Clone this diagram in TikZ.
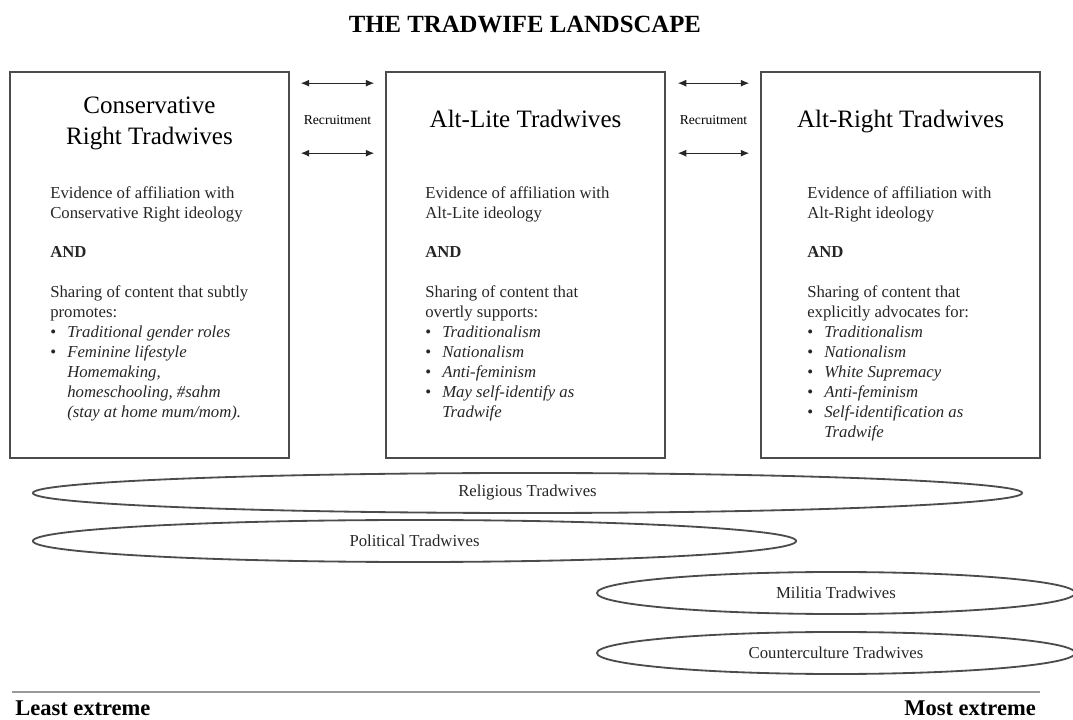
\documentclass[tikz,border=0pt]{standalone}
\usepackage{fontspec}
\setmainfont{Liberation Serif}
\usetikzlibrary{shapes.geometric,arrows.meta,calc}
\newcommand{\twitem}[1]{\makebox[12.1pt][l]{\textbullet}\textit{#1}}
\newcommand{\twmore}[1]{\hspace*{12.1pt}\textit{#1}}

\begin{document}
\begin{tikzpicture}[x=0.025cm,y=-0.025cm,
	tradbox/.style={rectangle,draw=black!70,line width=1.1pt,minimum width=6.975cm,minimum height=9.65cm,inner sep=0},
	boxhead/.style={font=\fontsize{17.8}{22}\selectfont,align=center,inner sep=0},
	boxbody/.style={font=\fontsize{11.9}{14.2}\selectfont,align=left,anchor=north west,inner sep=0,text=black!85},
	oval/.style={ellipse,draw=black!70,line width=1.3pt,inner sep=0,font=\fontsize{11.9}{14}\selectfont,text=black!85},
	recruit/.style={{Latex[length=6pt,width=5pt]}-{Latex[length=6pt,width=5pt]},line width=0.75pt,color=black!85}]
	\useasboundingbox (0,0) rectangle (1073,720);

	\node (title) [font=\bfseries\fontsize{17.6}{20}\selectfont,inner sep=0] at (525,25) {THE TRADWIFE LANDSCAPE};

	% the three groups
	\node (cons) [tradbox] at (149.5,265) {};
	\node (alite) [tradbox] at (525.5,265) {};
	\node (aright) [tradbox] at (900.5,265) {};

	\node (conshead) [boxhead,anchor=north] at (149.5,97) {Conservative\\Right Tradwives};
	\node (alitehead) [boxhead,anchor=base] at (525.5,128) {Alt-Lite Tradwives};
	\node (arighthead) [boxhead,anchor=base] at (900.5,128) {Alt-Right Tradwives};

	\node (consbody) [boxbody] at (50,186) {Evidence of affiliation with\\
		Conservative Right ideology\\[14.2pt]
		\textbf{AND}\\[14.2pt]
		Sharing of content that subtly\\
		promotes:\\
		\twitem{Traditional gender roles}\\
		\twitem{Feminine lifestyle}\\
		\twmore{Homemaking,}\\
		\twmore{homeschooling, \#sahm}\\
		\twmore{(stay at home mum/mom).}};
	\node (alitebody) [boxbody] at (425,186) {Evidence of affiliation with\\
		Alt-Lite ideology\\[14.2pt]
		\textbf{AND}\\[14.2pt]
		Sharing of content that\\
		overtly supports:\\
		\twitem{Traditionalism}\\
		\twitem{Nationalism}\\
		\twitem{Anti-feminism}\\
		\twitem{May self-identify as}\\
		\twmore{Tradwife}};
	\node (arightbody) [boxbody] at (807,186) {Evidence of affiliation with\\
		Alt-Right ideology\\[14.2pt]
		\textbf{AND}\\[14.2pt]
		Sharing of content that\\
		explicitly advocates for:\\
		\twitem{Traditionalism}\\
		\twitem{Nationalism}\\
		\twitem{White Supremacy}\\
		\twitem{Anti-feminism}\\
		\twitem{Self-identification as}\\
		\twmore{Tradwife}};

	% recruitment arrows
	\draw [recruit] ($(cons.north east)+(11,12)$) -- ($(alite.north west)+(-11,12)$);
	\draw [recruit] ($(cons.north east)+(11,82)$) -- ($(alite.north west)+(-11,82)$);
	\draw [recruit] ($(alite.north east)+(12,12)$) -- ($(aright.north west)+(-11,12)$);
	\draw [recruit] ($(alite.north east)+(12,82)$) -- ($(aright.north west)+(-11,82)$);
	\node (rec1) [font=\fontsize{9.7}{11}\selectfont,inner sep=0] at (337.5,120) {Recruitment};
	\node (rec2) [font=\fontsize{9.7}{11}\selectfont,inner sep=0] at (713.5,120) {Recruitment};

	% overlapping types
	\node (relig) [oval,minimum width=24.725cm,minimum height=1cm] at (527.5,493) {Religious Tradwives};
	\node (polit) [oval,minimum width=19.075cm,minimum height=1.05cm] at (414.5,541) {Political Tradwives};
	\node (milit) [oval,minimum width=11.95cm,minimum height=1.05cm] at (836,593) {Militia Tradwives};
	\node (counter) [oval,minimum width=11.95cm,minimum height=1.05cm] at (836,653) {Counterculture Tradwives};

	\draw [line width=1.4pt,color=black!40] (12,692)--(1040,692);
	\node (least) [font=\bfseries\fontsize{16}{18}\selectfont,inner sep=0,anchor=base west] at (15,715) {Least extreme};
	\node (most) [font=\bfseries\fontsize{16}{18}\selectfont,inner sep=0,anchor=base east] at (1036,715) {Most extreme};
\end{tikzpicture}
\end{document}
